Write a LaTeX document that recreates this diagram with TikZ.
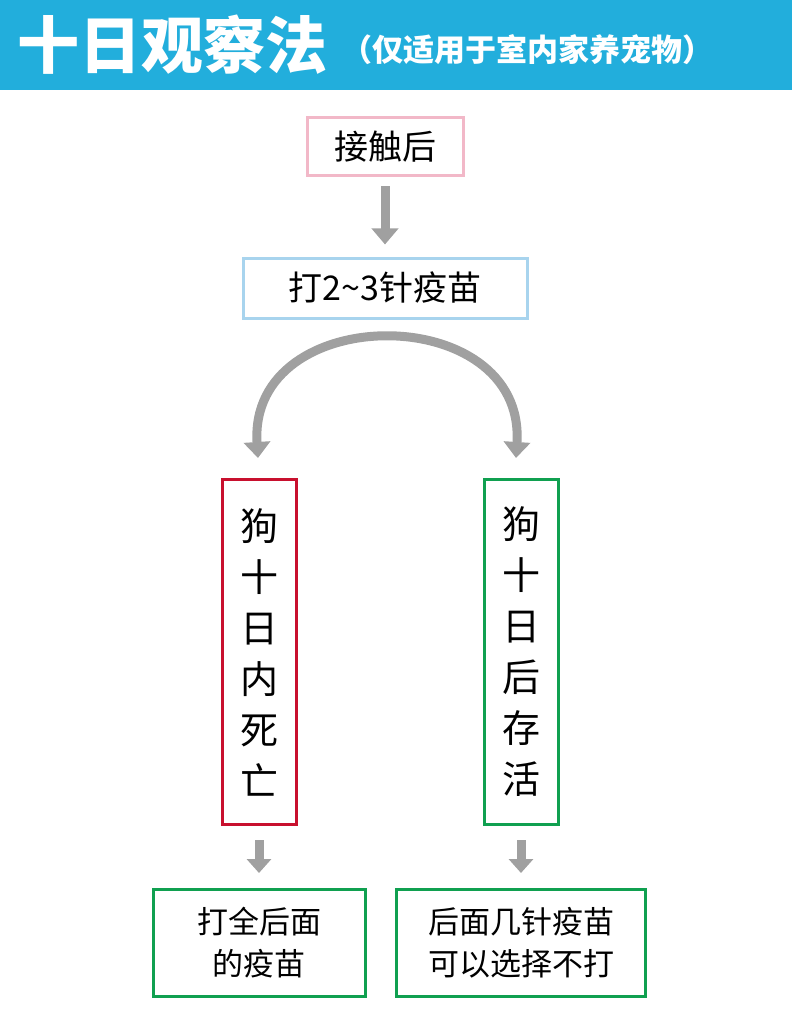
\documentclass[tikz,border=0pt]{standalone}
\usepackage{fontspec}
\newfontfamily\cjk{Noto Sans CJK SC}
\usetikzlibrary{arrows.meta}
\definecolor{band}{HTML}{22AEDC}
\definecolor{arrowgray}{HTML}{A0A0A0}
\definecolor{pinkline}{HTML}{F2B8C8}
\definecolor{blueline}{HTML}{A8D4EE}
\definecolor{redline}{HTML}{C8102E}
\definecolor{greenline}{HTML}{10A050}
\tikzset{
  box/.style={draw, line width=3pt, inner sep=0pt, font=\cjk\fontsize{34}{44}\selectfont, align=center},
  down/.style={arrowgray, line width=9pt, -{Triangle[length=16pt,width=26pt]}},
}
\begin{document}
\begin{tikzpicture}[x=1pt,y=-1pt]
	\useasboundingbox (0,0) rectangle (792,1016);
	\fill[band] (0,0) rectangle (792,90);
	\node[white, anchor=west, font=\cjk\bfseries\fontsize{62}{66}\selectfont] (title) at (14,45) {十日观察法};
	\node[white, anchor=west, font=\cjk\bfseries\fontsize{31}{34}\selectfont] (sub) at (338,50) {（仅适用于室内家养宠物）};

	\node[box, draw=pinkline, minimum width=156pt, minimum height=58pt] (touch) at (385,147) {接触后};
	\node[box, draw=blueline, minimum width=284pt, minimum height=60pt] (vac) at (385,288) {打2\textasciitilde3针疫苗};
	\draw[down] ([yshift=-9pt]touch.south) -- ([yshift=12pt]vac.north);

	% fork
	\coordinate (arcl) at (258,458);
	\coordinate (arcr) at (516,458);
	\draw[arrowgray, line width=9pt, {Triangle[length=16pt,width=26pt]}-{Triangle[length=16pt,width=26pt]}]
		(arcl) .. controls (248,300) and (526,300) .. (arcr);

	\node[box, draw=redline, minimum width=74pt, minimum height=345pt, font=\cjk\fontsize{38}{51}\selectfont] (dead) at (259,652) {狗\\十\\日\\内\\死\\亡};
	\node[box, draw=greenline, minimum width=74pt, minimum height=345pt, font=\cjk\fontsize{38}{51}\selectfont] (live) at (521,652) {狗\\十\\日\\后\\存\\活};

	\node[box, draw=greenline, minimum width=212pt, minimum height=107pt, font=\cjk\fontsize{31}{42}\selectfont] (all) at (259,943) {打全后面\\的疫苗};
	\node[box, draw=greenline, minimum width=249pt, minimum height=107pt, font=\cjk\fontsize{31}{42}\selectfont] (skip) at (521,943) {后面几针疫苗\\可以选择不打};

	\draw[down, -{Triangle[length=14pt,width=24pt]}] ([yshift=-14pt]dead.south) -- ([yshift=15pt]all.north);
	\draw[down, -{Triangle[length=14pt,width=24pt]}] ([yshift=-14pt]live.south) -- ([yshift=15pt]skip.north);
\end{tikzpicture}
\end{document}
